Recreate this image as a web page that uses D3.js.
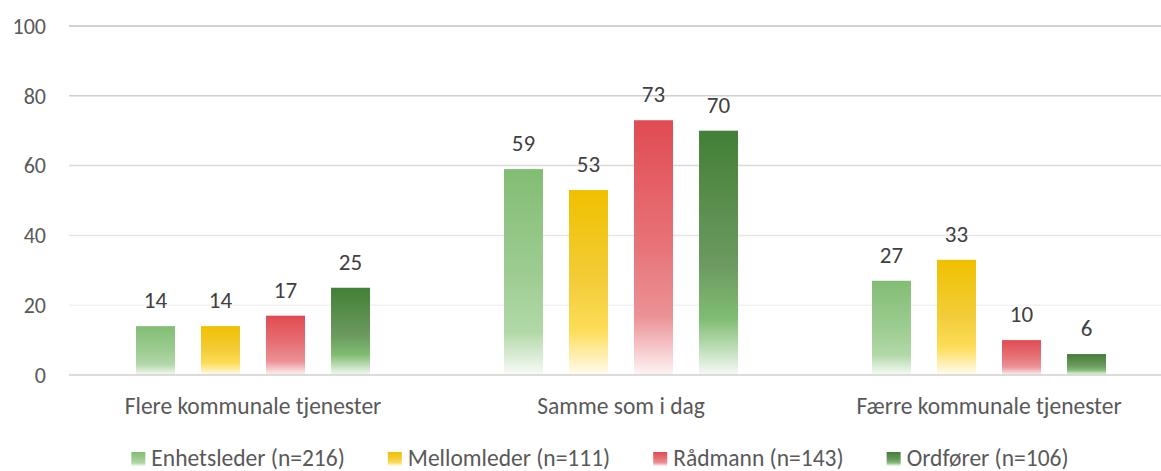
<!DOCTYPE html>
<html>
<head>
<meta charset="utf-8">
<script src="https://cdn.jsdelivr.net/npm/d3@7"></script>
<style>
  body { margin: 0; background: #fff; }
  svg { display: block; font-family: Carlito, Calibri, Lato, "Open Sans", sans-serif; }
</style>
</head>
<body>
<svg id="chart" width="1161" height="471"></svg>
<script>
const categories = ["Flere kommunale tjenester", "Samme som i dag", "Færre kommunale tjenester"];
const seriesNames = ["Enhetsleder (n=216)", "Mellomleder (n=111)", "Rådmann (n=143)", "Ordfører (n=106)"];
const enhetsleder = [14, 59, 27];
const mellomleder = [14, 53, 33];
const raadmann = [17, 73, 10];
const ordforer = [25, 70, 6];
const yTicks = [0, 20, 40, 60, 80, 100];

const seriesValues = [enhetsleder, mellomleder, raadmann, ordforer];

// gradient stops per series (top -> bottom), like the excel fill
const gradients = [
    [[0, "#82bd74"], [0.5, "#9dcc91"], [0.79, "#b2d8a8"], [1, "#f8fbf7"]],
    [[0, "#f0c000"], [0.5, "#f3cd3a"], [0.76, "#fddd58"], [1, "#fffcf2"]],
    [[0, "#e14b52"], [0.5, "#e77479"], [0.77, "#eb9296"], [1, "#fdf4f5"]],
    [[0, "#437f36"], [0.55, "#6c9a60"], [0.77, "#80bd73"], [1, "#f6faf5"]]
];

const svg = d3.select("#chart");
const margin = { left: 69, top: 26, bottom: 375 };
const plotRight = 1173; // plot runs past the picture edge

const x0 = d3.scaleBand().domain(categories).range([margin.left, plotRight])
    .paddingInner(0.364).paddingOuter(0.182);
const x1 = d3.scaleBand().domain(d3.range(seriesNames.length)).range([0, x0.bandwidth()])
    .paddingInner(0.4);
const y = d3.scaleLinear().domain([0, 100]).range([margin.bottom, margin.top]);
const gridColor = d3.scaleLinear().domain([20, 100]).range(["#f2f2f2", "#c2c2c2"]);

const defs = svg.append("defs");
gradients.forEach((stops, i) => {
    const g = defs.append("linearGradient").attr("id", "grad" + i)
        .attr("x1", 0).attr("y1", 0).attr("x2", 0).attr("y2", 1);
    stops.forEach(s => g.append("stop").attr("offset", s[0]).attr("stop-color", s[1]));
});

// gridlines
svg.append("g").selectAll("line")
    .data(yTicks.filter(t => t > 0))
    .enter().append("line")
    .attr("x1", margin.left).attr("x2", plotRight)
    .attr("y1", d => y(d)).attr("y2", d => y(d))
    .attr("stroke", d => gridColor(d)).attr("stroke-width", 1.5);

// y tick labels
svg.append("g").selectAll("text")
    .data(yTicks)
    .enter().append("text")
    .attr("x", 46).attr("y", d => y(d))
    .attr("dy", "0.35em")
    .attr("text-anchor", "end")
    .attr("fill", "#595959")
    .style("font-size", "22px")
    .text(d => d);

// bars
const groups = svg.append("g").selectAll("g")
    .data(categories)
    .enter().append("g")
    .attr("transform", d => `translate(${x0(d)},0)`);

groups.selectAll("rect")
    .data((d, ci) => seriesValues.map((vals, si) => ({ si, v: vals[ci] })))
    .enter().append("rect")
    .attr("x", d => x1(d.si))
    .attr("width", x1.bandwidth())
    .attr("y", d => y(d.v))
    .attr("height", d => y(0) - y(d.v))
    .attr("fill", d => `url(#grad${d.si})`);

groups.selectAll("text")
    .data((d, ci) => seriesValues.map((vals, si) => ({ si, v: vals[ci] })))
    .enter().append("text")
    .attr("x", d => x1(d.si) + x1.bandwidth() / 2)
    .attr("y", d => y(d.v) - 18)
    .attr("text-anchor", "middle")
    .attr("fill", "#404040")
    .style("font-size", "23px")
    .text(d => d.v);

// baseline
svg.append("line")
    .attr("x1", margin.left).attr("x2", plotRight)
    .attr("y1", y(0)).attr("y2", y(0))
    .attr("stroke", "#d0d0d0").attr("stroke-width", 1.5);

// category labels
svg.append("g").selectAll("text")
    .data(categories)
    .enter().append("text")
    .attr("x", d => x0(d) + x0.bandwidth() / 2)
    .attr("y", 414)
    .attr("text-anchor", "middle")
    .attr("fill", "#595959")
    .style("font-size", "23.5px")
    .text(d => d);

// legend
const legend = svg.append("g");
const items = legend.selectAll("g").data(seriesNames).enter().append("g");
items.append("rect")
    .attr("width", 14).attr("height", 14)
    .attr("y", 452)
    .attr("fill", (d, i) => `url(#grad${i})`);
items.append("text")
    .attr("x", 20).attr("y", 465.5)
    .attr("fill", "#595959")
    .style("font-size", "23.5px")
    .text(d => d);

let cursor = 0;
const offsets = [];
items.each(function() {
    offsets.push(cursor);
    cursor += 20 + this.querySelector("text").getComputedTextLength() + 43;
});
const legendWidth = cursor - 43;
const legendStart = 600 - legendWidth / 2;
items.attr("transform", (d, i) => `translate(${legendStart + offsets[i]},0)`);
</script>
</body>
</html>
